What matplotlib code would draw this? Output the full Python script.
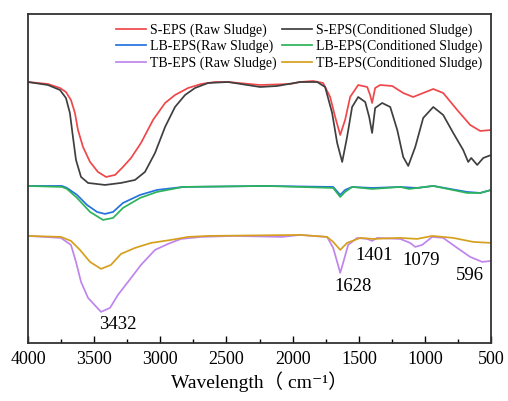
import numpy as np
import matplotlib.pyplot as plt
from matplotlib.ticker import MultipleLocator

plt.rcParams['font.family'] = ['Liberation Serif', 'Noto Sans CJK SC', 'DejaVu Serif']

# wavenumber (cm-1) / relative transmittance (arb. units)
s_raw_x = [4000, 3849, 3758, 3713, 3675, 3645, 3622, 3584, 3531, 3471, 3410, 3342,
           3282, 3221, 3146, 3055, 2964, 2889, 2790, 2692, 2586, 2488, 2246, 2019,
           1944, 1846, 1770, 1717, 1679, 1641, 1604, 1566, 1505, 1437, 1415, 1400,
           1377, 1339, 1248, 1165, 1090, 1014, 938, 863, 757, 659, 583, 500]
s_raw_y = [261, 259, 255, 251, 243, 230, 213, 196, 181, 171, 166, 168,
           176, 185, 200, 223, 240, 248, 255, 259, 261, 261, 258, 259,
           261, 262, 260, 246, 226, 208, 223, 246, 258, 256, 248, 240,
           255, 258, 257, 250, 246, 250, 254, 250, 233, 218, 212, 213]

s_con_x = [4000, 3849, 3758, 3713, 3683, 3660, 3637, 3599, 3546, 3418, 3297, 3191,
           3116, 3040, 2964, 2889, 2813, 2738, 2639, 2488, 2246, 2118, 1944, 1815,
           1755, 1702, 1664, 1626, 1589, 1551, 1505, 1452, 1422, 1400, 1377, 1324,
           1263, 1210, 1165, 1127, 1074, 1014, 938, 863, 787, 712, 674, 651,
           606, 560, 500]
s_con_y = [261, 258, 253, 245, 230, 206, 183, 166, 160, 158, 160, 163,
           171, 190, 216, 236, 248, 255, 260, 261, 256, 257, 261, 261,
           256, 230, 200, 181, 206, 236, 246, 241, 226, 210, 235, 240,
           236, 213, 186, 177, 196, 225, 236, 228, 210, 193, 181, 185,
           178, 185, 188]

lb_raw_x = [4000, 3743, 3705, 3629, 3554, 3478, 3418, 3357, 3282, 3153, 3025, 2828,
            2200, 1694, 1641, 1604, 1551, 1400, 1188, 1060, 938, 682, 583, 500]
lb_raw_y = [157, 157, 155, 148, 138, 131, 129, 131, 140, 148, 153, 156,
            157, 156, 148, 153, 156, 155, 156, 155, 157, 151, 150, 153]

lb_con_x = [4000, 3743, 3705, 3629, 3531, 3433, 3357, 3282, 3153, 3025, 2828,
            2200, 1694, 1641, 1604, 1551, 1400, 1188, 1120, 938, 682, 583, 500]
lb_con_y = [157, 156, 154, 145, 131, 123, 125, 135, 145, 151, 156,
            157, 155, 146, 151, 156, 154, 156, 154, 157, 150, 150, 153]

tb_raw_x = [4000, 3751, 3675, 3637, 3599, 3546, 3448, 3380, 3320, 3244, 3146, 3040,
            2942, 2843, 2692, 2450, 2080, 1944, 1846, 1740, 1694, 1664, 1641, 1619,
            1581, 1513, 1437, 1400, 1362, 1188, 1112, 1074, 1022, 946, 863, 757,
            659, 568, 500]
tb_raw_y = [107, 105, 98, 81, 61, 45, 31, 35, 48, 61, 78, 93,
            99, 104, 106, 107, 106, 108, 107, 106, 95, 81, 70, 80,
            98, 105, 104, 102, 105, 104, 100, 96, 98, 106, 105, 95,
            86, 81, 82]

tb_con_x = [4000, 3751, 3675, 3607, 3531, 3448, 3373, 3297, 3191, 3070, 2919, 2790,
            2639, 1944, 1740, 1694, 1641, 1589, 1490, 1392, 1188, 1059, 946, 787,
            636, 500]
tb_con_y = [107, 106, 102, 93, 81, 74, 78, 89, 95, 100, 103, 106,
            107, 108, 106, 101, 93, 100, 105, 104, 105, 104, 107, 105,
            101, 100]

labels = ['S-EPS (Raw Sludge)', 'S-EPS(Conditioned Sludge)',
          'LB-EPS(Raw Sludge)', 'LB-EPS(Conditioned Sludge)',
          'TB-EPS (Raw Sludge)', 'TB-EPS(Conditioned Sludge)']
colors = ['#F0474B', '#3F3F3F', '#2372E0', '#2DB35A', '#C085EC', '#D6A01E']

peaks = ['3432', '1628', '1401', '1079', '596']
peak_pos = [(3320, 18), (1543, 56), (1385, 87), (1029, 82), (659, 67)]

fig, ax = plt.subplots(figsize=(5.08, 4.01), dpi=100)
fig.subplots_adjust(left=0.055, right=0.967, top=0.965, bottom=0.145)

series = [(s_raw_x, s_raw_y), (s_con_x, s_con_y), (lb_raw_x, lb_raw_y),
          (lb_con_x, lb_con_y), (tb_raw_x, tb_raw_y), (tb_con_x, tb_con_y)]
lines = []
for (xs, ys), lab, c in zip(series, labels, colors):
    ln, = ax.plot(xs, ys, color=c, lw=1.25, label=lab)
    lines.append(ln)

for txt, (px, py) in zip(peaks, peak_pos):
    ax.text(px, py, txt, fontsize=13.5, ha='center', va='center')

ax.set_xlim(4000, 500)
ax.set_ylim(0, 329)
ax.set_yticks([])
ax.xaxis.set_major_locator(MultipleLocator(500))
ax.xaxis.set_minor_locator(MultipleLocator(250))
ax.tick_params(axis='x', which='major', direction='in', length=5, width=1, labelsize=13, pad=6)
ax.tick_params(axis='x', which='minor', direction='in', length=3, width=1)
for sp in ax.spines.values():
    sp.set_linewidth(1.3)
    sp.set_color('#333333')

ax.set_xlabel('Wavelength（ cm⁻¹）', fontsize=14, labelpad=2)

# row-wise legend order: raw in left column, conditioned in right
order = [0, 2, 4, 1, 3, 5]
ax.legend([lines[i] for i in order], [labels[i] for i in order],
          ncol=2, loc='upper right', frameon=False, fontsize=10,
          handlelength=2.15, columnspacing=0.35, labelspacing=0.22,
          handletextpad=0.3, borderaxespad=0.25, bbox_to_anchor=(1.0, 1.0))

plt.savefig('out.png', dpi=100)
